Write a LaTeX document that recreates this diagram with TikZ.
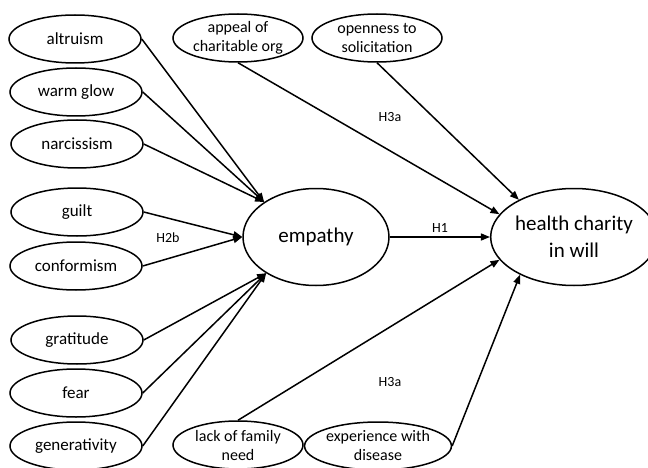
\documentclass[tikz,border=0pt]{standalone}
\usepackage{fontspec}
\setmainfont{Carlito}
\usetikzlibrary{arrows.meta,shapes.geometric}

\begin{document}
\begin{tikzpicture}[x=1pt, y=-1pt, line width=1.5pt,
    motive/.style={ellipse, draw, inner sep=0pt, minimum width=132pt, minimum height=48pt, font=\fontsize{17}{20}\selectfont},
    factor/.style={ellipse, draw, inner sep=0pt, minimum width=130pt, minimum height=48pt, align=center, font=\fontsize{16}{19}\selectfont},
    construct/.style={ellipse, draw, inner sep=0pt, minimum width=146pt, minimum height=97pt, align=center, font=\fontsize{21}{27}\selectfont},
    link/.style={-{Triangle[length=9pt, width=7pt]}},
    hyp/.style={font=\fontsize{14}{16}\selectfont}]

    \useasboundingbox (0,0) rectangle (648,468);

    % Motives on the left
    \node[motive] (altruism) at (75,39) {altruism};
    \node[motive] (warmglow) at (76,92) {warm glow};
    \node[motive] (narcissism) at (77,144) {narcissism};
    \node[motive] (guilt) at (77,212) {guilt};
    \node[motive] (conformism) at (76,266) {conformism};
    \node[motive] (gratitude) at (77,340) {gratitude};
    \node[motive] (fear) at (76,393) {fear};
    \node[motive] (generativity) at (76,446) {generativity};

    % Main constructs
    \node[construct] (empathy) at (316,237) {empathy};
    \node[construct] (charity) at (574,237) {health charity\\in will};

    % Other factors
    \node[factor] (appeal) at (238,38) {appeal of\\charitable org};
    \node[factor] (openness) at (377,38) {openness to\\solicitation};
    \node[factor] (need) at (238,445) {lack of family\\need};
    \node[factor] (disease) at (378,446) {experience with\\disease};

    % Motives to empathy
    \draw[link] (altruism.east) -- (empathy.146);
    \draw[link] (warmglow.east) -- (empathy.146);
    \draw[link] (narcissism.east) -- (empathy.146);
    \draw[link] (guilt.east) -- (empathy.west);
    \draw[link] (conformism.east) -- (empathy.west);
    \draw[link] (gratitude.east) -- (empathy.216);
    \draw[link] (fear.east) -- (empathy.216);
    \draw[link] (generativity.east) -- (empathy.216);
    \node[hyp] (h2b) at (168,238) {H2b};

    % H1
    \draw[link] (empathy.east) -- (charity.west);
    \node[hyp] (h1) at (440,228) {H1};

    % Factors to charity
    \draw[link] (appeal.south) -- (charity.163);
    \draw[link] (openness.south) -- (charity.146);
    \draw[link] (need.north) -- (charity.197);
    \draw[link] (disease.east) -- (charity.215);
    \node[hyp] (h3a) at (390,117) {H3a};
    \node[hyp] (h3b) at (390,382) {H3a};

\end{tikzpicture}
\end{document}
